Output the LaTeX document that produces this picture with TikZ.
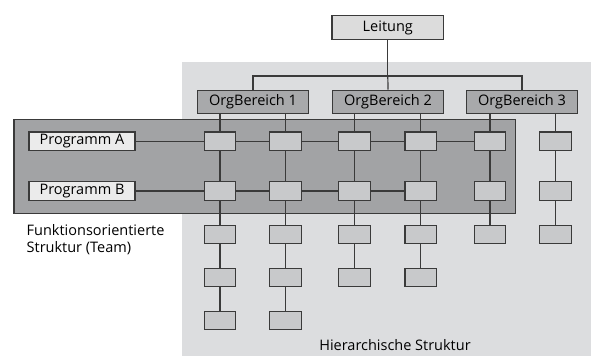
\documentclass[tikz,border=0pt]{standalone}
\usepackage{fontspec}
\setmainfont{Open Sans}
\definecolor{hierbg}{HTML}{DCDDDF}
\definecolor{teambg}{HTML}{A2A3A5}
\definecolor{orgfill}{HTML}{A8A9AB}
\definecolor{cellfill}{HTML}{C8C9CB}
\definecolor{topfill}{HTML}{DCDCDC}
\definecolor{progfill}{HTML}{EBEBEB}
\definecolor{edge}{HTML}{3A3A3A}
\tikzset{
  box/.style={draw=edge, line width=1.2pt, inner sep=0pt, font=\fontsize{14.5}{16}\selectfont},
  org/.style={box, fill=orgfill, minimum width=111pt, minimum height=23.5pt},
  topbox/.style={box, fill=topfill, minimum width=111.5pt, minimum height=23.5pt},
  prog/.style={box, fill=progfill, minimum width=106pt, minimum height=18.5pt},
  cell/.style={box, fill=cellfill, minimum width=31.6pt, minimum height=18.3pt},
  link/.style={draw=edge, line width=1.2pt},
  caption/.style={font=\fontsize{14.5}{17}\selectfont, align=left, inner sep=0pt},
}
\begin{document}
\begin{tikzpicture}[x=1pt, y=-1pt]
  \useasboundingbox (0,0) rectangle (591,356);
  % hierarchical area and team band
  \fill[hierbg] (181.5,61.5) rectangle (591,356);
  \draw[edge, line width=1.2pt, fill=teambg] (14,119.7) rectangle (515.7,213.3);

  % top of the hierarchy
  \node[topbox] (lead) at (387.8,27.5) {Leitung};
  \node[org] (o1) at (253,102) {OrgBereich 1};
  \node[org] (o2) at (388,102) {OrgBereich 2};
  \node[org] (o3) at (522,102) {OrgBereich 3};
  \coordinate (bus) at (387.8,76);
  \draw[link] (lead.south) -- (bus);
  \draw[link] (o1.north) |- (bus) -| (o3.north);
  \draw[link] (bus) -- (o2.north);

  % programme rows
  \node[prog] (pa) at (82,141.2) {Programm A};
  \node[prog] (pb) at (82,191) {Programm B};

  % columns of units: column index / x / number of rows
  \foreach \c/\x/\n in {1/220/5, 2/285.3/5, 3/354.3/4, 4/420.7/4, 5/490/3, 6/555.3/3}{
    \foreach \r/\y in {1/141.2, 2/191, 3/234.3, 4/277.7, 5/320.3}{
      \ifnum\r>\n\else
        \node[cell] (c\c r\r) at (\x,\y) {};
      \fi
    }
  }

  % vertical reporting lines
  \draw[link] (o1.south -| c1r1) -- (c1r1);
  \draw[link] (o1.south -| c2r1) -- (c2r1);
  \draw[link] (o2.south -| c3r1) -- (c3r1);
  \draw[link] (o2.south -| c4r1) -- (c4r1);
  \draw[link] (o3.south -| c5r1) -- (c5r1);
  \draw[link] (o3.south -| c6r1) -- (c6r1);
  \foreach \c in {1,2}{
    \draw[link] (c\c r1) -- (c\c r2) -- (c\c r3) -- (c\c r4) -- (c\c r5);
  }
  \foreach \c in {3,4}{
    \draw[link] (c\c r1) -- (c\c r2) -- (c\c r3) -- (c\c r4);
  }
  \foreach \c in {5,6}{
    \draw[link] (c\c r1) -- (c\c r2) -- (c\c r3);
  }

  % horizontal programme lines
  \draw[link] (pa) -- (c1r1) -- (c2r1) -- (c3r1) -- (c4r1) -- (c5r1);
  \draw[link] (pb) -- (c1r2) -- (c2r2) -- (c3r2) -- (c4r2);

  % redraw the cells above the lines
  \foreach \c/\n in {1/5, 2/5, 3/4, 4/4, 5/3, 6/3}{
    \foreach \r in {1,...,5}{
      \ifnum\r>\n\else
        \node[cell] at (c\c r\r) {};
      \fi
    }
  }

  % captions
  \node[caption, anchor=north west] (team) at (26.5,224) {Funktionsorientierte\\Struktur (Team)};
  \node[caption, anchor=base] (hier) at (395,350) {Hierarchische Struktur};
\end{tikzpicture}
\end{document}
